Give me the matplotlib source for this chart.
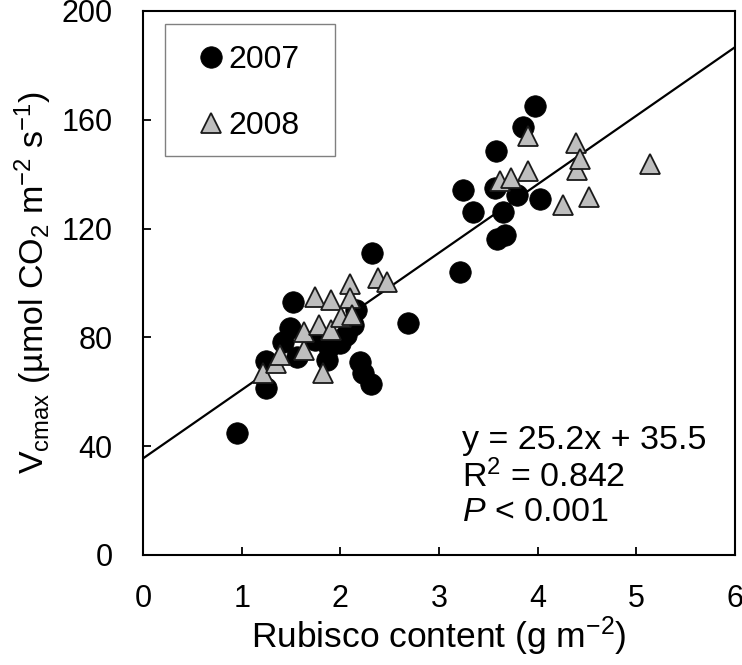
import matplotlib
matplotlib.use("Agg")
import matplotlib.pyplot as plt
from matplotlib.patches import Rectangle
import numpy as np

plt.rcParams['font.family'] = ['Liberation Sans', 'DejaVu Sans']
plt.rcParams['mathtext.fontset'] = 'custom'
plt.rcParams['mathtext.rm'] = 'Liberation Sans'
plt.rcParams['mathtext.it'] = 'Liberation Sans:italic'
plt.rcParams['mathtext.bf'] = 'Liberation Sans:bold'

# 2007 data (circles)
x2007 = [0.95, 1.25, 1.25, 1.42, 1.49, 1.52, 1.56, 1.74, 1.86, 1.89, 2.00, 2.06,
         2.13, 2.16, 2.20, 2.23, 2.31, 2.32, 2.69, 3.21, 3.24, 3.34, 3.57, 3.58,
         3.59, 3.67, 3.65, 3.79, 3.85, 3.97, 4.02]
y2007 = [44.7, 61.3, 71.5, 78.4, 83.6, 93.1, 72.9, 79.0, 71.7, 76.6, 77.8, 80.9,
         84.6, 90.0, 71.1, 66.8, 62.9, 111.0, 85.4, 104.2, 134.2, 126.2, 134.8, 148.6,
         116.0, 117.5, 126.2, 132.4, 157.5, 165.1, 130.8]

# 2008 data (triangles)
x2008 = [1.22, 1.35, 1.39, 1.63, 1.63, 1.74, 1.78, 1.82, 1.91, 1.91, 2.01, 2.10,
         2.10, 2.12, 2.38, 2.47, 3.62, 3.73, 3.90, 3.90, 4.26, 4.39, 4.40, 4.43,
         4.52, 5.14]
y2008 = [66.8, 70.5, 73.5, 75.4, 82.1, 95.0, 84.6, 66.8, 93.8, 82.7, 87.6, 99.6,
         94.4, 88.2, 101.7, 100.5, 137.6, 138.5, 141.3, 154.0, 128.7, 151.3, 141.5, 145.5,
         131.7, 143.7]

# regression
slope, intercept = 25.2, 35.5
x_ticks = [0, 1, 2, 3, 4, 5, 6]
y_ticks = [0, 40, 80, 120, 160, 200]

fig = plt.figure(figsize=(7.42, 6.65), dpi=100)
ax = fig.add_axes([143/742, 110/665, 592/742, 544/665])

xl = np.array([0, 6])
ax.plot(xl, slope*xl + intercept, color='black', lw=1.6, zorder=2)
ax.plot(x2007, y2007, linestyle='none', marker='o', ms=15.5, mfc='black', mec='black',
        mew=0.5, zorder=3, label='2007')
ax.plot(x2008, y2008, linestyle='none', marker='^', ms=14, mfc='#bebebe', mec='#1a1a1a',
        mew=1.3, zorder=4, label='2008')

ax.set_xlim(0, 6)
ax.set_ylim(0, 200)
ax.set_xticks(x_ticks)
ax.set_yticks(y_ticks)
ax.tick_params(direction='in', length=6, width=1.3, labelsize=22)
ax.tick_params(axis='x', pad=21)
ax.tick_params(axis='y', pad=22)
for s in ax.spines.values():
    s.set_linewidth(1.5)

ax.set_xlabel(r'Rubisco content (g m$^{-2}$)', fontsize=25.5, labelpad=0)
ax.set_ylabel(r'V$_{\mathrm{cmax}}$ (µmol CO$_2$ m$^{-2}$ s$^{-1}$)', fontsize=24.5, labelpad=5)

# legend frame
ax.add_patch(Rectangle((0.037, 0.733), 0.287, 0.243, transform=ax.transAxes,
                       facecolor='white', edgecolor='#808080', lw=1.0, zorder=5))
leg = ax.legend(loc='upper left', bbox_to_anchor=(0.093, 0.937), borderaxespad=0,
                fontsize=23, frameon=False, handlelength=0.8, handletextpad=0.15,
                borderpad=0, labelspacing=1.11, numpoints=1)
leg.set_zorder(6)

ax.text(0.539, 0.211, 'y = 25.2x + 35.5', transform=ax.transAxes, fontsize=24.5,
        va='center', ha='left')
ax.text(0.539, 0.143, r'R$^2$ = 0.842', transform=ax.transAxes, fontsize=24.5,
        va='center', ha='left')
ax.text(0.539, 0.079, r'$P$ < 0.001', transform=ax.transAxes, fontsize=24.5,
        va='center', ha='left')

fig.savefig('out.png', dpi=100)
